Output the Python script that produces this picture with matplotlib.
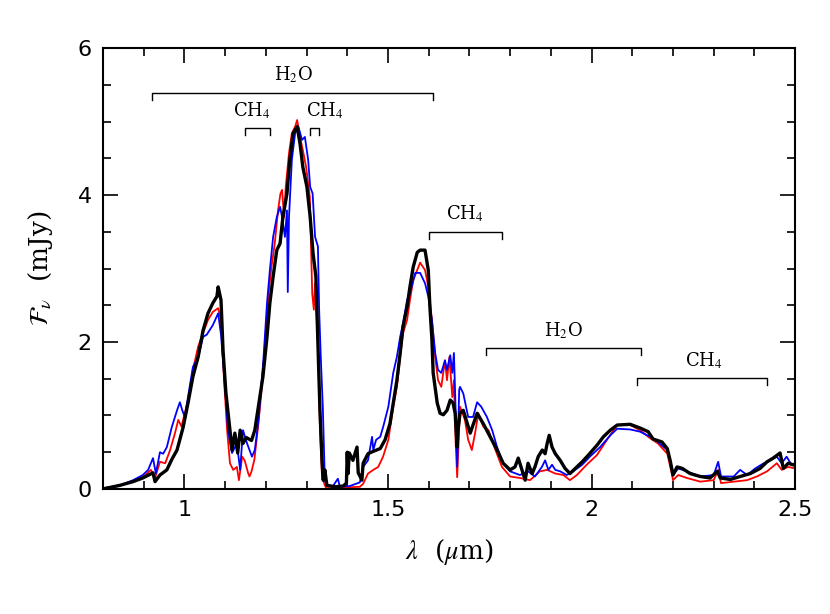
import matplotlib
matplotlib.use('Agg')
import matplotlib.pyplot as plt
from matplotlib.ticker import MultipleLocator

plt.rcParams['mathtext.fontset'] = 'stix'

# black spectrum (wavelength in micron, flux in mJy)
black_wave = [0.80, 0.842, 0.874, 0.898, 0.923, 0.928, 0.94, 0.957, 0.969, 0.982, 0.997, 1.009,
              1.021, 1.034, 1.046, 1.058, 1.070, 1.080, 1.083, 1.090, 1.095, 1.102, 1.112, 1.117,
              1.124, 1.131, 1.137, 1.144, 1.152, 1.165, 1.173, 1.183, 1.193, 1.203, 1.210, 1.218,
              1.227, 1.235, 1.242, 1.252, 1.259, 1.267, 1.277, 1.284, 1.291, 1.301, 1.309, 1.316,
              1.323, 1.328, 1.333, 1.338, 1.341, 1.345, 1.350, 1.370, 1.390, 1.398, 1.400, 1.402,
              1.405, 1.414, 1.424, 1.427, 1.436, 1.439, 1.451, 1.463, 1.481, 1.493, 1.505, 1.513,
              1.522, 1.530, 1.537, 1.547, 1.554, 1.562, 1.572, 1.579, 1.591, 1.599, 1.603, 1.608,
              1.611, 1.621, 1.628, 1.636, 1.645, 1.653, 1.660, 1.665, 1.670, 1.672, 1.677, 1.685,
              1.702, 1.719, 1.734, 1.751, 1.768, 1.783, 1.800, 1.812, 1.820, 1.829, 1.837, 1.844,
              1.854, 1.861, 1.869, 1.879, 1.886, 1.891, 1.896, 1.903, 1.911, 1.923, 1.935, 1.947,
              1.960, 1.977, 1.992, 2.014, 2.029, 2.046, 2.063, 2.095, 2.119, 2.139, 2.151, 2.173,
              2.186, 2.193, 2.200, 2.210, 2.223, 2.242, 2.267, 2.291, 2.309, 2.316, 2.341, 2.365,
              2.390, 2.414, 2.431, 2.446, 2.463, 2.471, 2.483, 2.495]
black_flux = [0.0, 0.05, 0.10, 0.15, 0.22, 0.10, 0.19, 0.26, 0.40, 0.53, 0.84, 1.17,
              1.53, 1.80, 2.16, 2.39, 2.53, 2.62, 2.75, 2.57, 1.89, 1.31, 0.80, 0.53,
              0.76, 0.49, 0.80, 0.62, 0.70, 0.66, 0.80, 1.17, 1.53, 2.07, 2.53, 2.89,
              3.25, 3.34, 3.70, 4.02, 4.48, 4.84, 4.93, 4.70, 4.38, 4.11, 3.70, 3.21,
              2.89, 1.98, 1.07, 0.40, 0.12, 0.26, 0.05, 0.03, 0.04, 0.08, 0.50, 0.21,
              0.49, 0.39, 0.57, 0.22, 0.12, 0.35, 0.48, 0.51, 0.55, 0.67, 0.89, 1.17,
              1.48, 1.85, 2.21, 2.48, 2.75, 3.02, 3.22, 3.25, 3.25, 2.98, 2.48, 2.03,
              1.58, 1.17, 1.03, 1.01, 1.07, 1.21, 1.17, 1.03, 0.57, 0.80, 1.03, 1.07,
              0.76, 1.03, 0.89, 0.71, 0.53, 0.35, 0.26, 0.30, 0.42, 0.26, 0.12, 0.35,
              0.21, 0.30, 0.44, 0.53, 0.48, 0.62, 0.73, 0.57, 0.48, 0.39, 0.28, 0.21,
              0.28, 0.37, 0.46, 0.60, 0.71, 0.80, 0.87, 0.88, 0.83, 0.78, 0.68, 0.64,
              0.55, 0.39, 0.19, 0.30, 0.28, 0.21, 0.17, 0.15, 0.24, 0.15, 0.13, 0.17,
              0.21, 0.28, 0.37, 0.42, 0.49, 0.28, 0.35, 0.33]

blue_wave = [0.80, 0.842, 0.874, 0.898, 0.911, 0.923, 0.930, 0.940, 0.948, 0.957, 0.969, 0.982,
             0.989, 0.995, 1.001, 1.009, 1.021, 1.034, 1.046, 1.055, 1.070, 1.083, 1.090, 1.100,
             1.107, 1.117, 1.129, 1.137, 1.144, 1.154, 1.166, 1.173, 1.183, 1.186, 1.194, 1.203,
             1.210, 1.218, 1.227, 1.235, 1.240, 1.247, 1.252, 1.254, 1.257, 1.264, 1.272, 1.280,
             1.289, 1.296, 1.304, 1.309, 1.315, 1.321, 1.328, 1.331, 1.335, 1.340, 1.345, 1.350,
             1.365, 1.377, 1.382, 1.406, 1.431, 1.439, 1.451, 1.461, 1.464, 1.471, 1.481, 1.488,
             1.501, 1.513, 1.522, 1.530, 1.537, 1.547, 1.554, 1.567, 1.579, 1.591, 1.599, 1.608,
             1.616, 1.623, 1.631, 1.640, 1.645, 1.653, 1.658, 1.662, 1.666, 1.670, 1.675, 1.677,
             1.685, 1.697, 1.709, 1.719, 1.729, 1.743, 1.756, 1.768, 1.783, 1.800, 1.824, 1.844,
             1.861, 1.878, 1.886, 1.894, 1.903, 1.911, 1.923, 1.939, 1.955, 1.977, 1.996, 2.021,
             2.046, 2.063, 2.095, 2.119, 2.144, 2.163, 2.186, 2.197, 2.200, 2.213, 2.234, 2.267,
             2.300, 2.311, 2.318, 2.349, 2.365, 2.382, 2.402, 2.423, 2.439, 2.455, 2.467, 2.479,
             2.491, 2.500]
blue_flux = [0.01, 0.05, 0.12, 0.19, 0.26, 0.42, 0.21, 0.50, 0.48, 0.57, 0.84, 1.07,
             1.18, 1.07, 0.98, 1.25, 1.66, 1.80, 2.07, 2.10, 2.23, 2.39, 2.10, 1.39,
             0.80, 0.49, 0.62, 0.26, 0.80, 0.62, 0.44, 0.53, 0.98, 1.21, 1.75, 2.53,
             2.98, 3.43, 3.70, 3.84, 3.70, 3.43, 3.79, 2.68, 3.70, 4.48, 4.84, 4.93,
             4.75, 4.79, 4.48, 4.11, 4.02, 3.43, 3.30, 2.44, 1.80, 1.12, 0.12, 0.05,
             0.04, 0.14, 0.03, 0.04, 0.09, 0.30, 0.39, 0.71, 0.53, 0.67, 0.71, 0.84,
             1.12, 1.58, 1.80, 2.07, 2.25, 2.57, 2.66, 2.94, 2.94, 2.80, 2.62, 2.30,
             1.85, 1.62, 1.58, 1.75, 1.62, 1.82, 1.58, 1.85, 1.12, 0.30, 1.35, 1.39,
             1.30, 0.98, 0.98, 1.18, 1.12, 0.98, 0.80, 0.57, 0.35, 0.24, 0.19, 0.24,
             0.17, 0.30, 0.39, 0.26, 0.33, 0.26, 0.24, 0.19, 0.24, 0.33, 0.44, 0.57,
             0.73, 0.82, 0.81, 0.78, 0.71, 0.64, 0.53, 0.30, 0.19, 0.28, 0.24, 0.17,
             0.19, 0.37, 0.17, 0.17, 0.26, 0.19, 0.28, 0.35, 0.39, 0.44, 0.35, 0.44,
             0.33, 0.35]

red_wave = [0.80, 0.842, 0.874, 0.898, 0.918, 0.928, 0.940, 0.953, 0.965, 0.977, 0.985, 0.993,
            1.001, 1.009, 1.021, 1.034, 1.046, 1.058, 1.070, 1.083, 1.090, 1.097, 1.105, 1.112,
            1.120, 1.129, 1.134, 1.142, 1.148, 1.157, 1.160, 1.165, 1.172, 1.181, 1.189, 1.198,
            1.206, 1.213, 1.222, 1.230, 1.236, 1.240, 1.245, 1.249, 1.257, 1.264, 1.272, 1.277,
            1.284, 1.291, 1.299, 1.308, 1.314, 1.318, 1.321, 1.328, 1.333, 1.338, 1.345, 1.349,
            1.431, 1.439, 1.451, 1.464, 1.476, 1.488, 1.501, 1.513, 1.522, 1.530, 1.537, 1.547,
            1.554, 1.562, 1.572, 1.579, 1.591, 1.599, 1.608, 1.616, 1.623, 1.631, 1.640, 1.645,
            1.651, 1.658, 1.662, 1.666, 1.670, 1.675, 1.677, 1.689, 1.697, 1.706, 1.714, 1.722,
            1.734, 1.747, 1.764, 1.780, 1.800, 1.824, 1.849, 1.873, 1.891, 1.911, 1.931, 1.947,
            1.964, 1.988, 2.013, 2.038, 2.063, 2.095, 2.119, 2.144, 2.163, 2.186, 2.197, 2.200,
            2.213, 2.234, 2.267, 2.300, 2.311, 2.318, 2.349, 2.382, 2.406, 2.431, 2.455, 2.467,
            2.483, 2.500]
red_flux = [0.01, 0.05, 0.10, 0.16, 0.26, 0.15, 0.37, 0.35, 0.53, 0.76, 0.94, 0.85,
            1.03, 1.21, 1.62, 1.94, 2.12, 2.30, 2.41, 2.46, 2.30, 1.53, 0.80, 0.35,
            0.26, 0.30, 0.12, 0.44, 0.39, 0.21, 0.17, 0.24, 0.40, 0.85, 1.30, 1.98,
            2.62, 2.98, 3.34, 3.79, 4.02, 4.07, 3.70, 4.11, 4.57, 4.84, 4.93, 5.02,
            4.79, 4.61, 4.38, 3.98, 2.66, 2.44, 2.80, 1.98, 0.85, 0.17, 0.05, 0.01,
            0.03, 0.07, 0.21, 0.26, 0.30, 0.44, 0.67, 1.12, 1.39, 1.80, 2.12, 2.30,
            2.57, 2.84, 2.98, 3.08, 2.98, 2.75, 2.30, 1.80, 1.48, 1.39, 1.75, 1.48,
            1.80, 1.25, 1.48, 0.67, 0.16, 0.85, 1.12, 0.94, 0.67, 0.53, 0.76, 1.03,
            0.85, 0.80, 0.53, 0.30, 0.17, 0.15, 0.12, 0.24, 0.26, 0.21, 0.19, 0.12,
            0.19, 0.33, 0.46, 0.67, 0.87, 0.87, 0.80, 0.69, 0.62, 0.48, 0.21, 0.12,
            0.19, 0.15, 0.10, 0.12, 0.26, 0.08, 0.10, 0.12, 0.17, 0.24, 0.35, 0.26,
            0.30, 0.28]

# absorption band brackets: (start, end, height, label)
band_start = [0.92, 1.149, 1.309, 1.601, 1.741, 2.112]
band_end = [1.611, 1.210, 1.331, 1.780, 2.122, 2.431]
band_y = [5.39, 4.91, 4.91, 3.50, 1.92, 1.51]
band_label = ['H$_2$O', 'CH$_4$', 'CH$_4$', 'CH$_4$', 'H$_2$O', 'CH$_4$']
label_x = [1.267, 1.165, 1.345, 1.69, 1.93, 2.275]

fig = plt.figure(figsize=(8.3, 6.14), dpi=100)
ax = fig.add_axes([0.124, 0.2036, 0.834, 0.7182])

ax.plot(red_wave, red_flux, color='red', lw=1.3)
ax.plot(blue_wave, blue_flux, color='blue', lw=1.3)
ax.plot(black_wave, black_flux, color='black', lw=2.4)

for x0, x1, y, lab, lx in zip(band_start, band_end, band_y, band_label, label_x):
    ax.plot([x0, x0, x1, x1], [y - 0.1, y, y, y - 0.1], color='black', lw=1.0)
    ax.text(lx, y + 0.1, lab, ha='center', va='bottom', fontsize=13, family='DejaVu Serif')

ax.set_xlim(0.8, 2.5)
ax.set_ylim(0, 6)
ax.xaxis.set_major_locator(MultipleLocator(0.5))
ax.xaxis.set_minor_locator(MultipleLocator(0.1))
ax.yaxis.set_major_locator(MultipleLocator(2))
ax.yaxis.set_minor_locator(MultipleLocator(0.5))
ax.set_xticks([1, 1.5, 2, 2.5])
ax.set_xticklabels(['1', '1.5', '2', '2.5'])
ax.tick_params(which='both', direction='in', top=True, right=True, labelsize=16, width=1.2)
ax.tick_params(which='major', length=11, pad=8)
ax.tick_params(which='minor', length=5.5)
for s in ax.spines.values():
    s.set_linewidth(1.5)

ax.set_xlabel(r'$\lambda$  ($\mu$m)', fontsize=19, family='DejaVu Serif', labelpad=12)
ax.set_ylabel(r'$\mathcal{F}_\nu$  (mJy)', fontsize=19, family='DejaVu Serif', labelpad=16)

fig.savefig('out.png', dpi=100)
